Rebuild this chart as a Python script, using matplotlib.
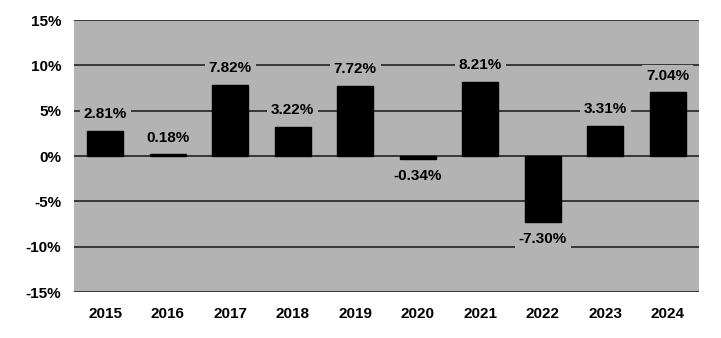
import numpy as np
import matplotlib.pyplot as plt

years = ["2015", "2016", "2017", "2018", "2019", "2020", "2021", "2022", "2023", "2024"]
returns = [2.81, 0.18, 7.82, 3.22, 7.72, -0.34, 8.21, -7.30, 3.31, 7.04]
yticks = [-15, -10, -5, 0, 5, 10, 15]

plt.rcParams['font.family'] = ["Liberation Sans", "DejaVu Sans"]
plt.rcParams['font.weight'] = 'bold'

bg = "#b3b3b3"
fs = 11
fig = plt.figure(figsize=(7.21, 3.38), dpi=100)
ax = fig.add_axes([74/721, 1-292/338, 625/721, 272/338])
ax.set_facecolor(bg)

x = np.arange(len(years))
ax.bar(x, returns, width=0.58, color="black", edgecolor="black", zorder=3)

# value labels above positive bars, below negative ones
for xi, v in zip(x, returns):
    dy = 12 if v >= 0 else -12
    ax.annotate(f"{v:.2f}%", (xi, v), xytext=(0, dy), textcoords="offset points",
                ha="center", va="center", fontsize=fs, fontweight="bold",
                bbox=dict(boxstyle="square,pad=0.25", fc=bg, ec="none"), zorder=4)

ax.set_xlim(-0.5, len(years) - 0.5)
ax.set_ylim(-15, 15)
ax.set_yticks(yticks)
ax.set_yticklabels([f"{t}%" for t in yticks], fontsize=fs, fontweight="bold")
ax.set_xticks(x)
ax.set_xticklabels(years, fontsize=fs, fontweight="bold")
ax.tick_params(length=0, pad=11)
ax.tick_params(axis="y", pad=9)
ax.grid(axis="y", color="#222222", linewidth=1.2, zorder=1)
for s in ax.spines.values():
    s.set_visible(False)

fig.savefig("out.png", dpi=100)
